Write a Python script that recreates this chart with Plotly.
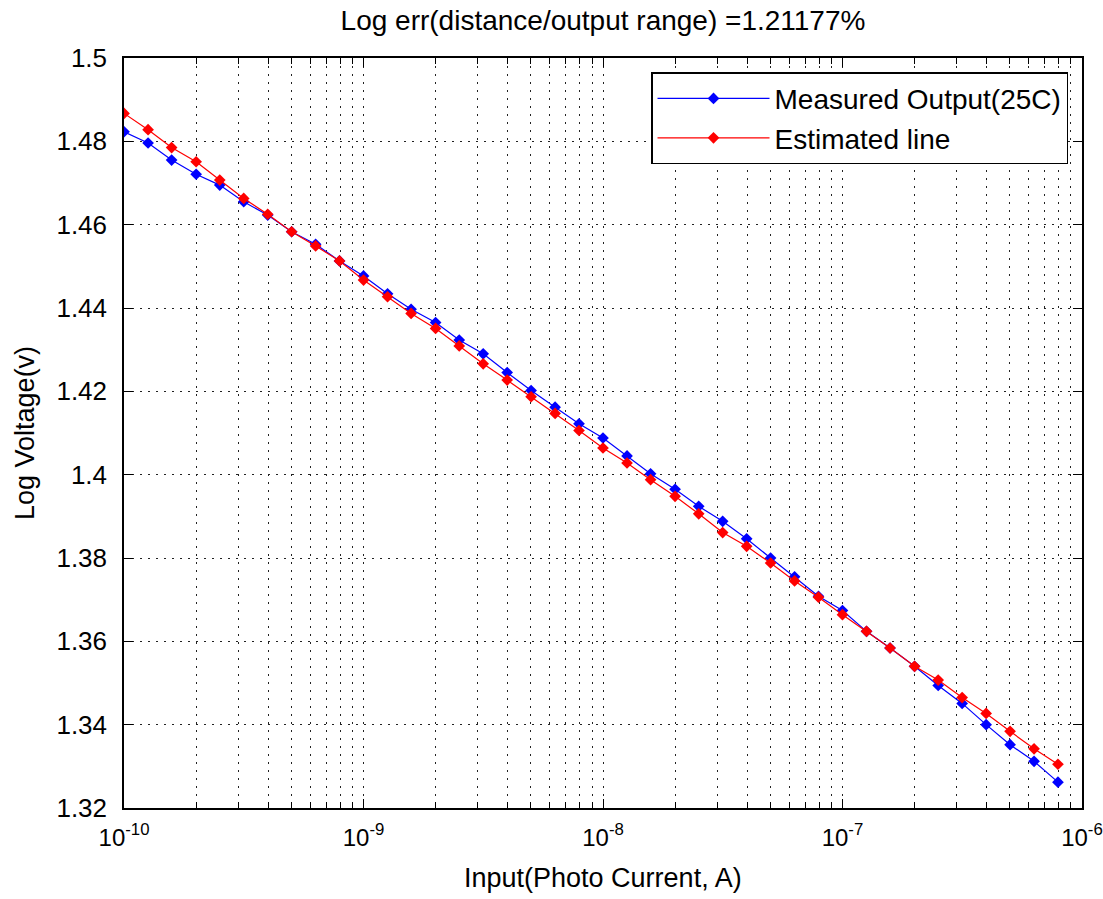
import plotly.graph_objects as go

# ---------------- data ----------------
photo_current = [
    1.00e-10, 1.26e-10, 1.58e-10, 2.00e-10, 2.51e-10, 3.16e-10, 3.98e-10, 5.01e-10, 6.31e-10, 7.94e-10,
    1.00e-9, 1.26e-9, 1.58e-9, 2.00e-9, 2.51e-9, 3.16e-9, 3.98e-9, 5.01e-9, 6.31e-9, 7.94e-9,
    1.00e-8, 1.26e-8, 1.58e-8, 2.00e-8, 2.51e-8, 3.16e-8, 3.98e-8, 5.01e-8, 6.31e-8, 7.94e-8,
    1.00e-7, 1.26e-7, 1.58e-7, 2.00e-7, 2.51e-7, 3.16e-7, 3.98e-7, 5.01e-7, 6.31e-7, 7.94e-7,
]

measured_output = [
    1.4823, 1.4796, 1.4755, 1.4721, 1.4695, 1.4655, 1.4623, 1.4583, 1.4553, 1.4513,
    1.4477, 1.4434, 1.4397, 1.4365, 1.4323, 1.4290, 1.4245, 1.4202, 1.4162, 1.4122,
    1.4088, 1.4045, 1.4002, 1.3965, 1.3924, 1.3888, 1.3846, 1.3800, 1.3755, 1.3708,
    1.3674, 1.3624, 1.3584, 1.3540, 1.3494, 1.3451, 1.3400, 1.3352, 1.3312, 1.3262,
]

estimated_line = [
    1.4867, 1.4828, 1.4785, 1.4751, 1.4707, 1.4663, 1.4625, 1.4583, 1.4549, 1.4513,
    1.4467, 1.4427, 1.4387, 1.4351, 1.4309, 1.4266, 1.4227, 1.4187, 1.4147, 1.4106,
    1.4064, 1.4028, 1.3988, 1.3948, 1.3906, 1.3861, 1.3828, 1.3788, 1.3745, 1.3706,
    1.3664, 1.3624, 1.3584, 1.3540, 1.3507, 1.3465, 1.3427, 1.3384, 1.3342, 1.3305,
]

x_major_vals = [1e-10, 1e-9, 1e-8, 1e-7, 1e-6]
x_major_text = ["10<sup>-10</sup>", "10<sup>-9</sup>", "10<sup>-8</sup>", "10<sup>-7</sup>", "10<sup>-6</sup>"]
x_minor_mantissas = [2, 3, 4, 5, 6, 7, 8, 9]
x_minor_decades = [1e-10, 1e-9, 1e-8, 1e-7]
x_minor_vals = [m * d for d in x_minor_decades for m in x_minor_mantissas]

y_tick_vals = [1.32, 1.34, 1.36, 1.38, 1.40, 1.42, 1.44, 1.46, 1.48, 1.50]
y_tick_text = ["1.32", "1.34", "1.36", "1.38", "1.4", "1.42", "1.44", "1.46", "1.48", "1.5"]

title_text = "Log err(distance/output range) =1.21177%"
x_label = "Input(Photo Current, A)"
y_label = "Log Voltage(v)"

# ---------------- figure ----------------
FONT = "Liberation Sans, Arial, Helvetica, sans-serif"
GRID_DASH = "2px,6px"

fig = go.Figure()
fig.add_trace(go.Scatter(
    x=photo_current, y=measured_output, mode="lines+markers",
    name="Measured Output(25C)",
    line=dict(color="#0000ff", width=1.2),
    marker=dict(symbol="diamond", size=9, color="#0000ff"),
))
fig.add_trace(go.Scatter(
    x=photo_current, y=estimated_line, mode="lines+markers",
    name="Estimated line",
    line=dict(color="#ff0000", width=1.2),
    marker=dict(symbol="diamond", size=9, color="#ff0000"),
))

fig.update_layout(
    width=1103, height=899,
    margin=dict(l=124, r=21, t=58, b=91, autoexpand=False),
    paper_bgcolor="white", plot_bgcolor="white",
    font=dict(family=FONT, size=26, color="black"),
    showlegend=True,
    title=dict(text=title_text, x=0.5, xref="paper", xanchor="center",
               y=1 - 20 / 899, yref="container", yanchor="middle",
               font=dict(family=FONT, size=28, color="black")),
    legend=dict(x=0.9854, xanchor="right", y=0.981, yanchor="top",
                bgcolor="white", bordercolor="black", borderwidth=1.5,
                font=dict(family=FONT, size=28, color="black"),
                itemwidth=112, tracegroupgap=0),
    annotations=[
        dict(text=x_label, x=0.5, xref="paper", y=0, yref="paper",
             xanchor="center", yanchor="middle", yshift=-70, showarrow=False,
             font=dict(family=FONT, size=27, color="black")),
        dict(text=y_label, x=0, xref="paper", y=0.5, yref="paper",
             xanchor="center", yanchor="middle", xshift=-99, textangle=-90,
             showarrow=False, font=dict(family=FONT, size=27, color="black")),
    ],
)

fig.update_xaxes(
    type="log", range=[-10.0002, -5.9998],
    tickmode="array", tickvals=x_major_vals, ticktext=x_major_text,
    ticks="inside", ticklen=9, tickwidth=1, tickcolor="black",
    showline=True, linecolor="black", linewidth=1.5, mirror="allticks",
    showgrid=True, gridcolor="#222", gridwidth=1, griddash=GRID_DASH,
    zeroline=False, automargin=False, ticklabelstandoff=7,
    ticklabeloverflow="allow",
    tickfont=dict(family=FONT, size=24, color="black"),
    minor=dict(tickmode="array", tickvals=x_minor_vals, ticks="inside",
               ticklen=6, tickwidth=1, tickcolor="black",
               showgrid=True, gridcolor="#222", gridwidth=1, griddash=GRID_DASH),
)

fig.update_yaxes(
    range=[1.32, 1.50],
    tickmode="array", tickvals=y_tick_vals, ticktext=y_tick_text,
    ticks="inside", ticklen=9, tickwidth=1, tickcolor="black",
    showline=True, linecolor="black", linewidth=1.5, mirror="allticks",
    showgrid=True, gridcolor="#222", gridwidth=1, griddash=GRID_DASH,
    zeroline=False, automargin=False, ticklabelstandoff=10,
    ticklabeloverflow="allow",
    tickfont=dict(family=FONT, size=26, color="black"),
)

fig.write_html("out.html")
